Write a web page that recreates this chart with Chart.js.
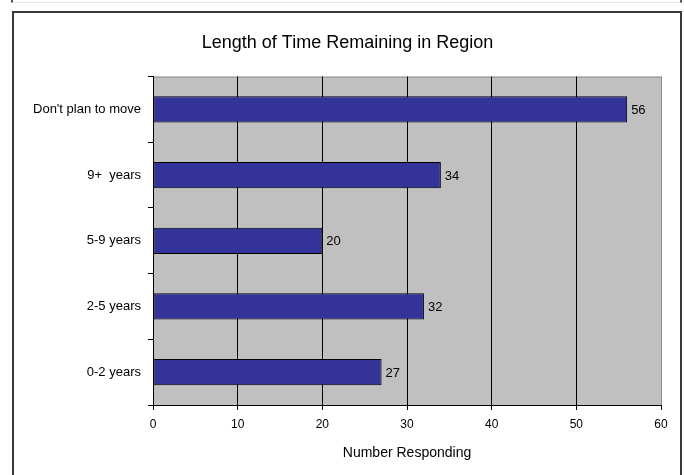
<!DOCTYPE html>
<html>
<head>
<meta charset="utf-8">
<script src="https://cdn.jsdelivr.net/npm/chart.js@4/dist/chart.umd.min.js"></script>
<style>
  body { margin: 0; background: #fff; }
  #wrap { position: relative; width: 684px; height: 475px; overflow: hidden; }
  #stub { position: absolute; left: 11px; top: -4px; width: 667px; height: 6px;
          border: 2px solid #555; border-top: none; border-bottom: 1px solid #e6e6e6; }
  #frame { position: absolute; left: 12px; top: 11px; width: 666px; height: 480px;
           border: 2px solid #3a3a3a; }
  canvas { position: absolute; left: 0; top: 0; }
</style>
</head>
<body>
<div id="wrap">
  <div id="stub"></div>
  <div id="frame"></div>
  <canvas id="timeChart" width="684" height="475"></canvas>
</div>
<script>
const categories = ["Don't plan to move", "9+  years", "5-9 years", "2-5 years", "0-2 years"];
const responses = [56, 34, 20, 32, 27];
const xMax = 60;
const xStep = 10;
const fontFamily = "Arial, 'Liberation Sans'";

const plotBackground = {
  id: "plotBackground",
  beforeDraw(chart) {
    const { ctx, chartArea: a } = chart;
    ctx.save();
    ctx.fillStyle = "#c0c0c0";
    ctx.fillRect(a.left, a.top, a.right - a.left, a.bottom - a.top);
    ctx.strokeStyle = "#8c8c8c";
    ctx.lineWidth = 1;
    ctx.strokeRect(a.left + 0.5, a.top + 0.5, a.right - a.left, a.bottom - a.top);
    ctx.restore();
  }
};

const valueLabels = {
  id: "valueLabels",
  afterDatasetsDraw(chart) {
    const { ctx } = chart;
    const meta = chart.getDatasetMeta(0);
    ctx.save();
    ctx.font = "13px " + fontFamily;
    ctx.fillStyle = "#000";
    ctx.textAlign = "left";
    ctx.textBaseline = "middle";
    meta.data.forEach((bar, i) => {
      ctx.fillText(responses[i], bar.x + 4, bar.y + 1);
    });
    ctx.restore();
  }
};

new Chart(document.getElementById("timeChart"), {
  type: "bar",
  data: {
    labels: categories,
    datasets: [{
      data: responses,
      backgroundColor: "#333399",
      borderColor: "#000",
      borderWidth: 1,
      borderSkipped: false,
      categoryPercentage: 1,
      barPercentage: 0.4
    }]
  },
  options: {
    indexAxis: "y",
    responsive: false,
    animation: false,
    layout: { padding: { top: 4, right: 23, left: 34, bottom: 0 } },
    plugins: {
      legend: { display: false },
      tooltip: { enabled: false },
      title: {
        display: true,
        text: "Length of Time Remaining in Region",
        color: "#000",
        font: { family: fontFamily, size: 18, weight: "normal" },
        padding: { top: 28, bottom: 23 }
      }
    },
    scales: {
      x: {
        min: 0,
        max: xMax,
        ticks: {
          stepSize: xStep,
          color: "#000",
          padding: 7,
          font: { family: fontFamily, size: 12 }
        },
        grid: {
          color: ctx => (ctx.tick && ctx.tick.value === xMax ? "#8c8c8c" : "#000"),
          tickColor: "#000",
          tickLength: 5,
          lineWidth: 1
        },
        border: { color: "#000", width: 1 },
        title: {
          display: true,
          text: "Number Responding",
          color: "#000",
          font: { family: fontFamily, size: 14 },
          padding: { top: 6, bottom: 13 }
        },
        afterFit(scale) { scale.height = 70; }
      },
      y: {
        ticks: {
          color: "#000",
          padding: 7,
          font: { family: fontFamily, size: 13 }
        },
        grid: {
          offset: true,
          drawOnChartArea: false,
          color: "#000",
          tickLength: 5
        },
        border: { color: "#000", width: 1 },
        afterFit(scale) { scale.width = 119; }
      }
    }
  },
  plugins: [plotBackground, valueLabels]
});
</script>
</body>
</html>
